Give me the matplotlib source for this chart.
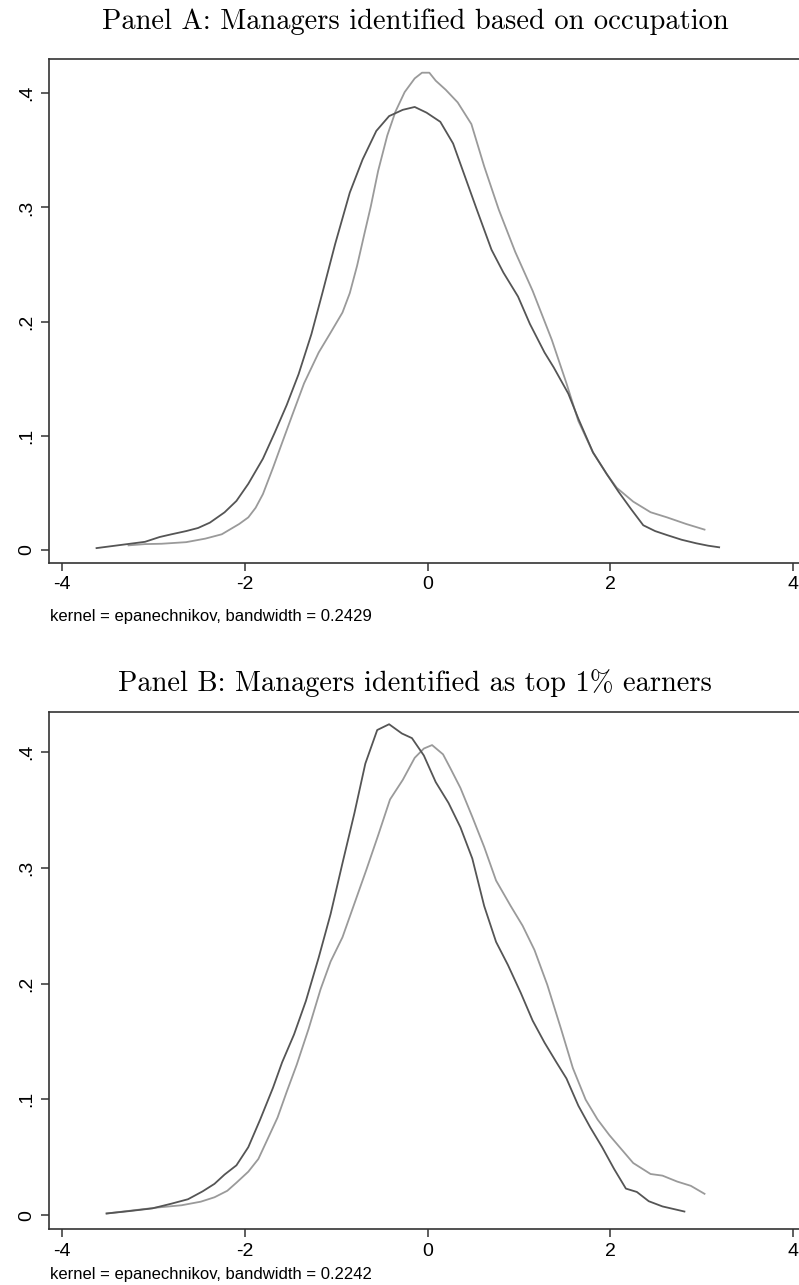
import matplotlib
matplotlib.use("Agg")
import matplotlib.pyplot as plt
import numpy as np

plt.rcParams['font.family'] = ['Liberation Sans', 'DejaVu Sans']

# Panel A: managers identified by occupation
a_dark_x = [-3.62, -3.09, -2.93, -2.80, -2.64, -2.51, -2.38, -2.22, -2.09, -1.96, -1.80, -1.67,
            -1.54, -1.41, -1.27, -1.15, -1.01, -0.85, -0.71, -0.56, -0.42, -0.27, -0.14, -0.01,
            0.14, 0.28, 0.41, 0.54, 0.70, 0.83, 0.99, 1.12, 1.28, 1.38, 1.54, 1.65, 1.81, 1.96,
            2.09, 2.23, 2.36, 2.49, 2.62, 2.78, 2.94, 3.07, 3.19]
a_dark_y = [0.0017, 0.0072, 0.0114, 0.0138, 0.0166, 0.0193, 0.024, 0.033, 0.043, 0.058, 0.080, 0.103,
            0.127, 0.154, 0.189, 0.225, 0.268, 0.313, 0.342, 0.367, 0.380, 0.3855, 0.388, 0.383,
            0.375, 0.356, 0.327, 0.298, 0.263, 0.243, 0.222, 0.198, 0.173, 0.160, 0.137, 0.115, 0.0855, 0.0666,
            0.051, 0.0355, 0.0217, 0.0166, 0.0131, 0.009, 0.0059, 0.0038, 0.0024]
a_light_x = [-3.27, -3.09, -2.91, -2.64, -2.43, -2.25, -2.06, -1.96, -1.88, -1.80, -1.69, -1.59,
             -1.48, -1.35, -1.19, -1.07, -0.93, -0.85, -0.77, -0.69, -0.62, -0.54, -0.44, -0.35,
             -0.25, -0.14, -0.06, 0.02, 0.09, 0.20, 0.33, 0.48, 0.62, 0.78, 0.96, 1.15, 1.36,
             1.52, 1.65, 1.81, 1.96, 2.07, 2.25, 2.44, 2.62, 2.83, 3.03]
a_light_y = [0.0041, 0.0052, 0.0055, 0.0069, 0.010, 0.0138, 0.0228, 0.0286, 0.037, 0.049, 0.072, 0.094,
             0.118, 0.146, 0.173, 0.189, 0.208, 0.225, 0.249, 0.277, 0.301, 0.332, 0.363, 0.384,
             0.401, 0.413, 0.418, 0.418, 0.411, 0.403, 0.392, 0.373, 0.336, 0.298, 0.261, 0.227, 0.184,
             0.146, 0.113, 0.0855, 0.0666, 0.0545, 0.0424, 0.0331, 0.0286, 0.0228, 0.0179]

# Panel B: managers identified as top 1% earners
b_dark_x = [-3.51, -3.27, -3.01, -2.80, -2.62, -2.46, -2.33, -2.22, -2.09, -1.96, -1.83, -1.69,
            -1.59, -1.46, -1.33, -1.19, -1.06, -0.93, -0.80, -0.68, -0.55, -0.42, -0.28, -0.17,
            -0.04, 0.09, 0.23, 0.36, 0.49, 0.62, 0.75, 0.88, 1.02, 1.15, 1.28, 1.41, 1.52, 1.65,
            1.78, 1.91, 2.04, 2.17, 2.29, 2.42, 2.57, 2.81]
b_dark_y = [0.0014, 0.0034, 0.0058, 0.0099, 0.0137, 0.0205, 0.027, 0.035, 0.043, 0.0587, 0.0826, 0.110,
            0.132, 0.156, 0.185, 0.2225, 0.260, 0.304, 0.347, 0.390, 0.419, 0.424, 0.416, 0.412,
            0.397, 0.374, 0.356, 0.335, 0.308, 0.267, 0.236, 0.216, 0.192, 0.168, 0.149, 0.132, 0.118, 0.0945,
            0.0758, 0.0587, 0.040, 0.0229, 0.020, 0.012, 0.0075, 0.0031]
b_light_x = [-3.51, -3.22, -2.96, -2.69, -2.48, -2.33, -2.19, -2.09, -1.96, -1.85, -1.75, -1.64,
             -1.54, -1.43, -1.30, -1.17, -1.06, -0.93, -0.80, -0.67, -0.54, -0.41, -0.27, -0.14,
             -0.04, 0.05, 0.17, 0.25, 0.36, 0.49, 0.62, 0.75, 0.91, 1.04, 1.17, 1.31, 1.46, 1.59,
             1.73, 1.86, 1.99, 2.12, 2.25, 2.44, 2.57, 2.73, 2.88, 3.03]
b_light_y = [0.0014, 0.0041, 0.0065, 0.0085, 0.0116, 0.0154, 0.021, 0.028, 0.0375, 0.0485, 0.0655, 0.0843,
             0.1065, 0.130, 0.161, 0.195, 0.219, 0.240, 0.269, 0.298, 0.328, 0.359, 0.376, 0.395,
             0.403, 0.406, 0.398, 0.386, 0.369, 0.344, 0.318, 0.289, 0.267, 0.250, 0.229, 0.199, 0.161, 0.127,
             0.0997, 0.0826, 0.069, 0.057, 0.045, 0.0355, 0.0341, 0.029, 0.0253, 0.0184]

xticks = [-4, -2, 0, 2, 4]
yticks = [0, 0.1, 0.2, 0.3, 0.4]
ytick_labels = ['0', '.1', '.2', '.3', '.4']

fig = plt.figure(figsize=(7.99, 12.85), dpi=100)
W, H = 799.0, 1285.0


def make_panel(rect, ylim, dark, light, title, title_y, note, note_y):
    ax = fig.add_axes(rect)
    ax.plot(light[0], light[1], color='#9a9a9a', lw=1.3)
    ax.plot(dark[0], dark[1], color='#555555', lw=1.3)
    ax.set_xlim(-4.14, 4.14)
    ax.set_ylim(*ylim)
    ax.set_xticks(xticks)
    ax.set_xticklabels([str(t) for t in xticks], fontsize=14)
    ax.set_yticks(yticks)
    ax.set_yticklabels(ytick_labels, fontsize=14, rotation=90, va='center')
    ax.tick_params(direction='out', length=6, width=1.1, color='#333333', pad=4)
    for s in ax.spines.values():
        s.set_color('#333333')
        s.set_linewidth(1.2)
    fig.text(415 / W, 1 - title_y / H, title, family='cmr10', fontsize=20.5,
             ha='center', va='center')
    fig.text(50 / W, 1 - note_y / H, note, fontsize=12, ha='left', va='center')
    return ax


make_panel([49 / W, 1 - 562.6 / H, 757 / W, 503.6 / H], (-0.011, 0.43),
           (a_dark_x, a_dark_y), (a_light_x, a_light_y),
           'Panel A: Managers identified based on occupation', 22,
           'kernel = epanechnikov, bandwidth = 0.2429', 616)
make_panel([49 / W, 1 - 1229 / H, 757 / W, 517.5 / H], (-0.012, 0.435),
           (b_dark_x, b_dark_y), (b_light_x, b_light_y),
           'Panel B: Managers identified as top 1% earners', 683,
           'kernel = epanechnikov, bandwidth = 0.2242', 1275)

fig.savefig('out.png', dpi=100)
